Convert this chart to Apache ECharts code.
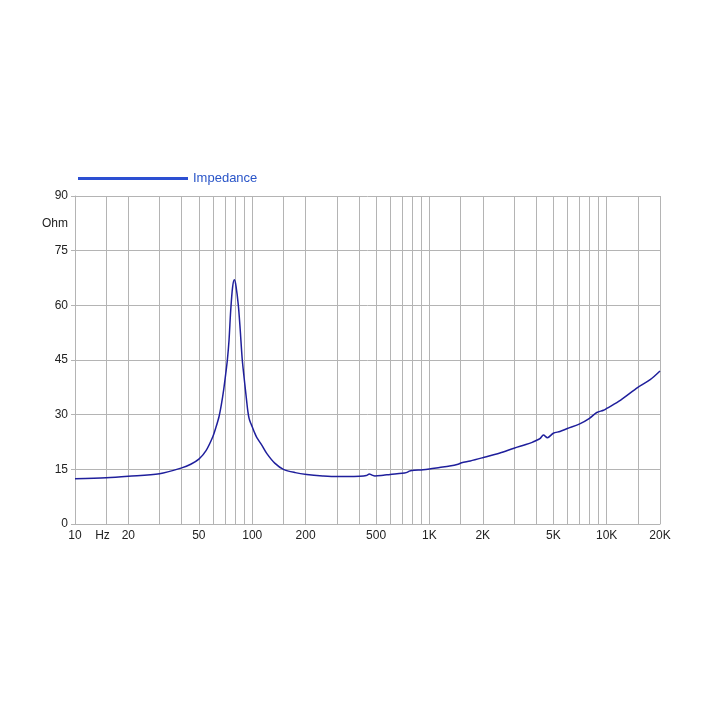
<!DOCTYPE html>
<html>
<head>
<meta charset="utf-8">
<script src="https://cdn.jsdelivr.net/npm/echarts@6/dist/echarts.min.js"></script>
<style>html,body{margin:0;padding:0;background:#fff}#c{width:716px;height:716px}</style>
</head>
<body>
<div id="c"></div>
<script>
// Frequencies (Hz) and impedance (Ohm)
const freqs = [10, 15, 20, 30, 40, 45, 50, 55, 60, 62.5, 65, 67, 69, 71, 72.4, 74, 75.6, 77.5, 79.3, 81, 83.5, 85.5, 87.9, 91, 93, 94.5, 96, 98, 100, 103, 106, 113, 121, 134, 150, 175, 203, 250, 300, 350, 404, 440, 458, 475, 492, 550, 600, 700, 740, 770, 795, 920, 1000, 1140, 1300, 1450, 1520, 1700, 2000, 2500, 3000, 3500, 3800, 4000, 4200, 4400, 4630, 5000, 5450, 6000, 7000, 8000, 8800, 9600, 10000, 12000, 15000, 17600, 20000];
const impedance = [12.4, 12.7, 13.1, 13.8, 15.4, 16.4, 17.8, 20.2, 24.0, 26.6, 29.5, 32.8, 36.8, 41.5, 45, 50.5, 58.5, 65, 67, 65.3, 60, 53.5, 45, 38.0, 33.8, 30.9, 29.0, 27.7, 26.7, 25.1, 23.8, 21.7, 19.3, 16.7, 15.0, 14.1, 13.6, 13.2, 13.0, 13.0, 13.1, 13.3, 13.7, 13.4, 13.2, 13.4, 13.6, 13.9, 14.1, 14.5, 14.7, 14.9, 15.1, 15.5, 15.9, 16.4, 16.8, 17.3, 18.2, 19.5, 20.8, 21.8, 22.4, 22.9, 23.4, 24.4, 23.7, 24.9, 25.4, 26.2, 27.4, 29.0, 30.6, 31.2, 31.7, 34.0, 37.5, 39.6, 42.0];
const gridFreqs = [10, 15, 20, 30, 40, 50, 60, 70, 80, 90, 100, 150, 200, 300, 400, 500, 600, 700, 800, 900, 1000, 1500, 2000, 3000, 4000, 5000, 6000, 7000, 8000, 9000, 10000, 15000, 20000];
const xLabelFreqs = [10, 14.3, 20, 50, 100, 200, 500, 1000, 2000, 5000, 10000, 20000];
const xLabelTexts = ['10', 'Hz', '20', '50', '100', '200', '500', '1K', '2K', '5K', '10K', '20K'];
const yTicks = [0, 15, 30, 45, 60, 75, 90];
const yUnitPos = 82.5;
const seriesName = 'Impedance';

const lg = v => Math.log10(v);
const data = freqs.map((f, i) => [lg(f), impedance[i]]);
const labelMap = {};
xLabelFreqs.forEach((f, i) => { labelMap[lg(f).toFixed(5)] = xLabelTexts[i]; });

const font = "'Liberation Sans', Arial, Helvetica, sans-serif";
const chart = echarts.init(document.getElementById('c'));
chart.setOption({
  animation: false,
  grid: { left: 75, right: 56, top: 196, bottom: 192, containLabel: false },
  legend: {
    left: 73, top: 167,
    icon: 'rect', itemWidth: 110, itemHeight: 3,
    itemStyle: { color: '#2c4fd2' },
    textStyle: { color: '#2a55c8', fontSize: 13, fontFamily: font },
    data: [seriesName]
  },
  xAxis: {
    type: 'value',
    min: 1, max: lg(20000),
    axisLine: { show: true, lineStyle: { color: '#b4b4b4', width: 1 } },
    axisTick: { show: false, customValues: gridFreqs.map(lg) },
    splitLine: { show: true, lineStyle: { color: '#b4b4b4', width: 1 } },
    axisLabel: {
      customValues: xLabelFreqs.map(lg),
      formatter: v => labelMap[v.toFixed(5)] || '',
      color: '#222', fontSize: 12, fontFamily: font, margin: 6
    }
  },
  yAxis: {
    type: 'value',
    min: 0, max: 90,
    axisLine: { show: true, lineStyle: { color: '#b4b4b4', width: 1 } },
    axisTick: { show: true, length: 4, customValues: yTicks, lineStyle: { color: '#b4b4b4' } },
    splitLine: { show: true, lineStyle: { color: '#b4b4b4', width: 1 } },
    axisLabel: {
      customValues: yTicks.concat([yUnitPos]),
      formatter: v => (v === yUnitPos ? 'Ohm' : String(v)),
      color: '#222', fontSize: 12, fontFamily: font, margin: 7
    }
  },
  series: [{
    name: seriesName,
    type: 'line',
    data: data,
    symbol: 'none',
    smooth: 0.3,
    lineStyle: { color: '#1f1f9c', width: 1.5 },
    itemStyle: { color: '#1f1f9c' }
  }]
});
</script>
</body>
</html>
